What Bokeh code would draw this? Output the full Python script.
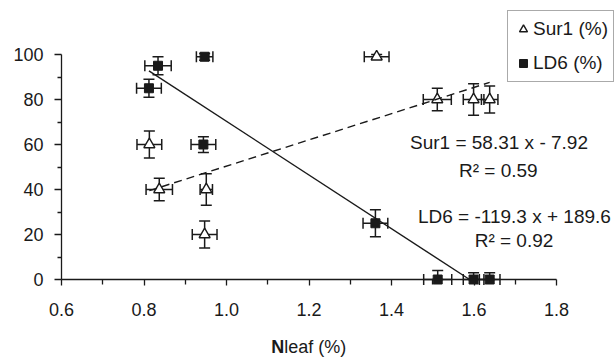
import numpy as np
from bokeh.plotting import figure
from bokeh.models import (Range1d, FixedTicker, NumeralTickFormatter, Whisker, TeeHead,
                          ColumnDataSource, Legend, LegendItem, Label)
from bokeh.embed import file_html
from bokeh.resources import INLINE

# ---------------- data ----------------
sur1_x = [0.813, 0.837, 0.951, 0.947, 1.364, 1.511, 1.599, 1.638]
sur1_y = [60, 40, 40, 20, 99, 80, 80, 80]
sur1_xerr = [0.030, 0.032, 0.015, 0.030, 0.030, 0.034, 0.025, 0.020]
sur1_yerr = [6, 5, 7, 6, 1, 5, 7, 6]

ld6_x = [0.834, 0.812, 0.947, 0.944, 1.361, 1.512, 1.599, 1.638]
ld6_y = [95, 85, 99, 60, 25, 0, 0, 0]
ld6_xerr = [0.032, 0.030, 0.020, 0.030, 0.030, 0.034, 0.025, 0.025]
ld6_yerr = [4, 4, 1.5, 3.5, 6, 4, 3, 3]

sur1_slope, sur1_icpt, sur1_r2 = 58.31, -7.92, 0.59
ld6_slope, ld6_icpt, ld6_r2 = -119.3, 189.6, 0.92

x_ticks = [0.6, 0.8, 1.0, 1.2, 1.4, 1.6, 1.8]
x_minor = [0.7, 0.9, 1.1, 1.3, 1.5, 1.7]
y_ticks = [0, 20, 40, 60, 80, 100]
y_minor = [10, 30, 50, 70, 90]

FONT = "Liberation Sans"
INK = "#1a1a1a"

W, H = 616, 357
PX_X, PX_Y = 412.5, 2.25          # pixels per data unit
X0_PX, Y0_PX = 61, 279            # pixel position of (0.6, 0)
x_start = 0.6 - X0_PX / PX_X
y_end = Y0_PX / PX_Y

p = figure(width=W, height=H, output_backend="svg", toolbar_location=None,
           x_range=Range1d(x_start, x_start + W / PX_X),
           y_range=Range1d(y_end - H / PX_Y, y_end),
           min_border=0, min_border_left=0, min_border_right=0,
           min_border_top=0, min_border_bottom=0)
p.outline_line_color = None
p.grid.visible = False
p.background_fill_color = "white"
p.border_fill_color = "white"

for ax, ticks, minor, bounds, loc in ((p.xaxis[0], x_ticks, x_minor, (0.6, 1.8), 0),
                                      (p.yaxis[0], y_ticks, y_minor, (0, 100), 0.6)):
    ax.fixed_location = loc
    ax.ticker = FixedTicker(ticks=ticks, minor_ticks=minor)
    ax.bounds = bounds
    ax.axis_line_color = INK
    ax.axis_line_width = 1.3
    ax.major_tick_line_color = INK
    ax.minor_tick_line_color = INK
    ax.major_tick_line_width = 1.3
    ax.minor_tick_line_width = 1.3
    ax.major_tick_in = 0
    ax.minor_tick_in = 0
    ax.major_label_text_font = FONT
    ax.major_label_text_font_size = "18px"
    ax.major_label_text_color = INK

p.xaxis[0].formatter = NumeralTickFormatter(format="0.0")
p.xaxis[0].major_tick_out = 6
p.xaxis[0].minor_tick_out = 5
p.xaxis[0].major_label_standoff = 17
p.yaxis[0].major_tick_out = 7
p.yaxis[0].minor_tick_out = 4
p.yaxis[0].major_label_standoff = 11

# ---------------- error bars ----------------
def add_errors(xs, ys, xe, ye):
    xs, ys, xe, ye = map(np.asarray, (xs, ys, xe, ye))
    src_v = ColumnDataSource(dict(base=xs, lower=np.maximum(ys - ye, 0), upper=ys + ye))
    src_h = ColumnDataSource(dict(base=ys, lower=xs - xe, upper=xs + xe))
    for src, dim in ((src_v, "height"), (src_h, "width")):
        w = Whisker(source=src, base="base", lower="lower", upper="upper", dimension=dim,
                    line_color=INK, line_width=1.5, level="underlay",
                    upper_head=TeeHead(size=11, line_color=INK, line_width=1.5),
                    lower_head=TeeHead(size=11, line_color=INK, line_width=1.5))
        p.add_layout(w)

add_errors(sur1_x, sur1_y, sur1_xerr, sur1_yerr)
add_errors(ld6_x, ld6_y, ld6_xerr, ld6_yerr)

r_tri = p.scatter(sur1_x, sur1_y, marker="triangle", size=11, fill_color="white",
                  line_color=INK, line_width=1.4)
r_sq = p.scatter(ld6_x, ld6_y, marker="square", size=9, fill_color=INK,
                 line_color=INK, line_width=1)

# ---------------- trend lines ----------------
sx = np.array([min(sur1_x), max(sur1_x)])
p.line(sx, sur1_slope * sx + sur1_icpt, line_color=INK, line_width=1.4, line_dash="8 5")
lx = np.array([min(ld6_x), min(max(ld6_x), -ld6_icpt / ld6_slope)])
p.line(lx, ld6_slope * lx + ld6_icpt, line_color=INK, line_width=1.4)

# ---------------- equation labels ----------------
def eq(name, a, b):
    sign = "-" if b < 0 else "+"
    return f"{name} = {a:g} x {sign} {abs(b):g}"

labels = [
    (eq("Sur1", sur1_slope, sur1_icpt), 1.6606, 60.9),
    (f"R\u00b2 = {sur1_r2:.2f}", 1.659, 48.4),
    (eq("LD6", ld6_slope, ld6_icpt), 1.698, 28.1),
    (f"R\u00b2 = {ld6_r2:.2f}", 1.697, 17.3),
]
for txt, lxp, lyp in labels:
    p.add_layout(Label(x=lxp, y=lyp, text=txt, text_font=FONT, text_font_size="19px",
                       text_color=INK, text_align="center", text_baseline="middle"))

# axis title with bold N
p.add_layout(Label(x=1.1084, y=-30.0, text="N", text_font=FONT, text_font_size="18px",
                   text_font_style="bold", text_color=INK, text_align="left",
                   text_baseline="middle"))
p.add_layout(Label(x=1.1399, y=-30.0, text="leaf (%)", text_font=FONT, text_font_size="18px",
                   text_color=INK, text_align="left", text_baseline="middle"))

# ---------------- legend ----------------
legend = Legend(items=[LegendItem(label="Sur1 (%)", renderers=[r_tri]),
                       LegendItem(label="LD6 (%)", renderers=[r_sq])],
                location=(507, H - 82), padding=5, spacing=8,
                glyph_width=20, glyph_height=20, label_height=26, label_standoff=-3,
                label_text_font=FONT, label_text_font_size="19px", label_text_color=INK,
                border_line_color="#555555", border_line_width=1,
                background_fill_color="white", background_fill_alpha=1)
p.add_layout(legend)

open("out.html", "w").write(file_html(p, INLINE))
